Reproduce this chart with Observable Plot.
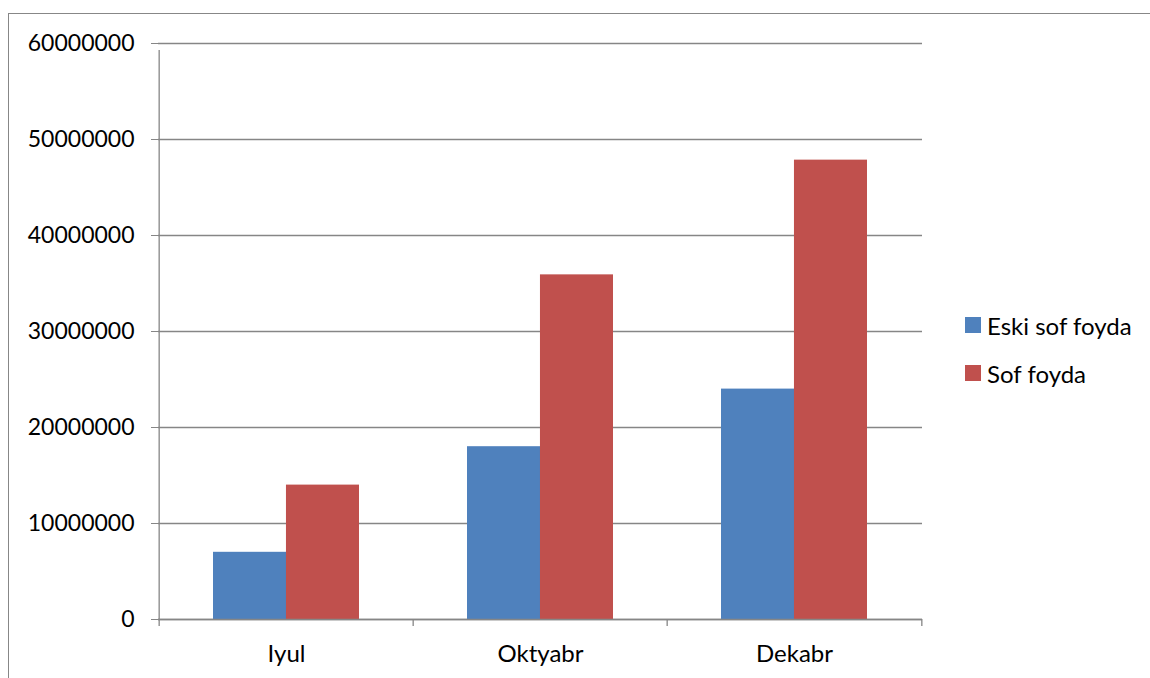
<!DOCTYPE html>
<html><head><meta charset="utf-8">
<script src="https://cdn.jsdelivr.net/npm/d3@7"></script>
<script src="https://cdn.jsdelivr.net/npm/@observablehq/plot@0.6"></script>
<style>
html,body{margin:0;padding:0;background:#fff;overflow:hidden;width:1150px;height:678px;}
#wrap{position:relative;width:1150px;height:678px;overflow:hidden;}
#frame{position:absolute;left:8px;top:13px;width:1300px;height:800px;border-left:1.5px solid #878787;border-top:1.5px solid #878787;}
#chart{position:absolute;left:0;top:0;}
#legend{position:absolute;left:965px;top:309px;font-family:Lato,"Open Sans",sans-serif;font-size:24px;color:#000;}
#legend .row{display:flex;align-items:center;height:32px;margin-bottom:16px;}
#legend .sw{width:16px;height:16px;margin-right:6px;flex:none;}
</style>
</head><body>
<div id="wrap"><div id="frame"></div><div id="chart"></div><div id="legend"></div></div>
<script>
const months = ["Iyul", "Oktyabr", "Dekabr"];
const seriesNames = ["Eski sof foyda", "Sof foyda"];
const eskiSofFoyda = [7000000, 18000000, 24000000];
const sofFoyda = [14000000, 35900000, 47850000];
const seriesColors = ["#4F81BD", "#C0504D"];
const yTicks = [0, 10000000, 20000000, 30000000, 40000000, 50000000, 60000000];

const rows = months.flatMap((m, i) => [
  {month: m, series: seriesNames[0], value: eskiSofFoyda[i]},
  {month: m, series: seriesNames[1], value: sofFoyda[i]}
]);

const W = 1150, H = 678;
const mL = 158, mR = 228, mT = 43, mB = 59;
const pInner = 0.427, pOuter = 0.2135;
const step = (W - mL - mR) / (months.length - pInner + 2 * pOuter);
const bw = step * (1 - pInner);
const grid = "#868686";
const font = "Lato, 'Open Sans', sans-serif";

const chart = Plot.plot({
  width: W, height: H,
  marginLeft: mL, marginRight: mR, marginTop: mT, marginBottom: mB,
  style: {fontFamily: font, background: "transparent", color: "#000"},
  x: {type: "band", domain: months, paddingInner: pInner, paddingOuter: pOuter},
  y: {domain: [0, 60000000]},
  color: {domain: seriesNames, range: seriesColors},
  marks: [
    Plot.gridY(yTicks, {stroke: grid, strokeOpacity: 1, strokeWidth: 1.3}),
    Plot.barY(rows.filter(d => d.series === seriesNames[0]), {x: "month", y: "value", fill: "series", insetRight: bw / 2}),
    Plot.barY(rows.filter(d => d.series === seriesNames[1]), {x: "month", y: "value", fill: "series", insetLeft: bw / 2}),
    Plot.ruleY([0], {stroke: grid, strokeWidth: 1.3}),
    Plot.ruleX([months[0]], {x: d => d, y1: 0, y2: 60000000, dx: -step / 2, insetBottom: -7, stroke: grid, strokeWidth: 1.3}),
    Plot.ruleX(months, {x: d => d, y1: 0, y2: 0, dx: -step / 2, insetBottom: -7, stroke: grid, strokeWidth: 1.3}),
    Plot.ruleX([months[months.length - 1]], {x: d => d, y1: 0, y2: 0, dx: step / 2, insetBottom: -7, stroke: grid, strokeWidth: 1.3}),
    Plot.axisY(yTicks, {tickSize: 7, tickPadding: 17, tickFormat: d3.format("d"), fontSize: 23, stroke: grid, fill: "#000", label: null}),
    Plot.axisX({tickSize: 0, tickPadding: 25, fontSize: 24, fill: "#000", label: null})
  ]
});
document.getElementById("chart").appendChild(chart);

const legend = document.getElementById("legend");
seriesNames.forEach((s, i) => {
  const row = document.createElement("div");
  row.className = "row";
  const sw = document.createElement("div");
  sw.className = "sw";
  sw.style.background = seriesColors[i];
  const t = document.createElement("span");
  t.textContent = s;
  row.appendChild(sw); row.appendChild(t);
  legend.appendChild(row);
});
</script>
</body></html>
